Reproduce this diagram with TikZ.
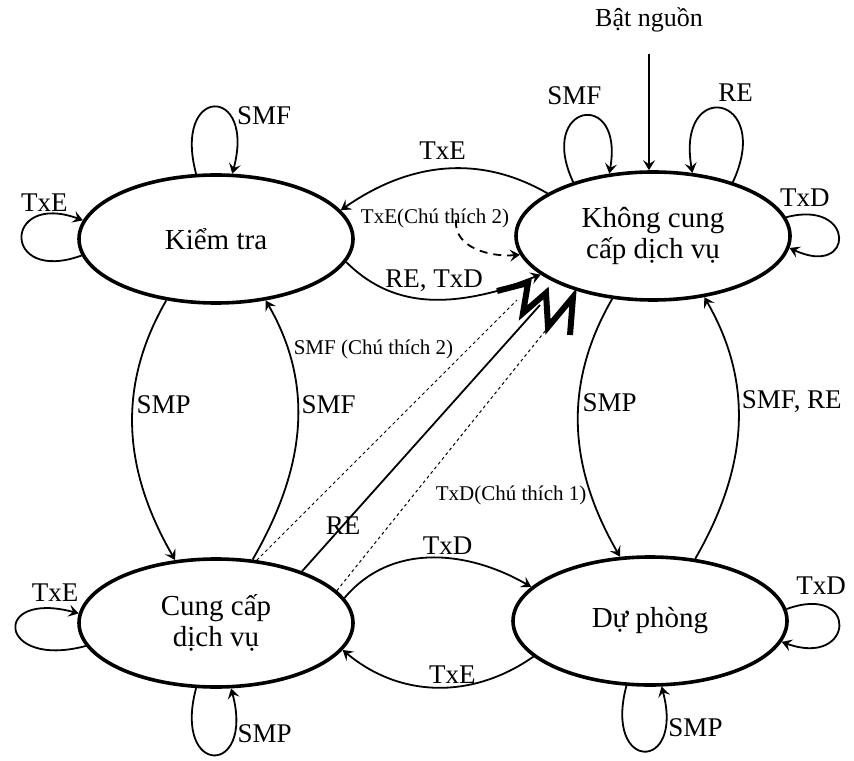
\documentclass[tikz,border=0pt]{standalone}
\usepackage{fontspec}
\setmainfont{Liberation Serif}
\usetikzlibrary{shapes.geometric,arrows.meta}

\begin{document}
\begin{tikzpicture}[x=0.5pt,y=0.5pt,
        >={Stealth[length=5pt,width=6pt,inset=2pt]},
        state/.style={draw,ellipse,line width=1.8pt,minimum width=137pt,
            minimum height=64pt,inner sep=0pt,align=center,
            font=\fontsize{14.5}{15.5}\selectfont},
        lbl/.style={font=\fontsize{13.5}{15}\selectfont,inner sep=1.5pt},
        note/.style={font=\fontsize{10.5}{12}\selectfont,inner sep=1pt},
        trans/.style={->,line width=0.9pt},
        hint/.style={line width=0.5pt,dash pattern=on 1.5pt off 1.5pt}]
        \useasboundingbox (0,0) rectangle (854,760);
        %% States
        \node[state] (KT) at (216,521) {Kiểm tra};
        \node[state] (KCC) at (653,524) {Không cung\\cấp dịch vụ};
        \node[state] (CC) at (216,137) {Cung cấp\\dịch vụ};
        \node[state] (DP) at (650,139) {Dự phòng};
        %% Power on
        \node[lbl,font=\fontsize{13}{15}\selectfont] (bat) at (649,740) {Bật nguồn};
        \draw[trans,shorten <=9pt] (bat) -- (bat |- KCC.north);
        %% Top pair
        \draw[trans] (KCC.158) to[out=150,in=35]
            node[lbl,above=3pt] (lTop) {TxE} (KT.13);
        \coordinate (zz) at (497,469);
        \draw[line width=0.9pt] (KT.-10) to[out=-45,in=195]
            node[lbl,pos=0.62,above=2pt] (lMid) {RE, TxD} (zz);
        \node[note] (nTxE) at (435,542) {TxE(Chú thích 2)};
        \coordinate (dsh) at (456,540);
        \draw[trans,dash pattern=on 4pt off 3pt] (dsh) to[out=-95,in=185] (KCC.188);
        %% Zigzag head
        \draw[line width=3pt] (zz) -- (528,477) -- (523,447) -- (546,467)
            -- (548,433) -- (573,463) -- (570,425);
        \draw[trans] (zz) -- (KCC.199);
        %% Vertical pairs
        \draw[trans] (KT.231) to[out=240,in=120]
            node[lbl,pos=0.4,right] (lSMP1) {SMP} (CC.123);
        \draw[trans] (CC.60) to[out=60,in=-60]
            node[lbl,pos=0.6,right] (lSMF1) {SMF} (KT.-51);
        \draw[trans] (KCC.237) to[out=240,in=120]
            node[lbl,pos=0.4,right] (lSMP2) {SMP} (DP.115);
        \draw[trans] (DP.54) to[out=60,in=-60]
            node[lbl,pos=0.6,right] (lSMF2) {SMF, RE} (KCC.-50);
        %% Bottom pair
        \draw[trans] (CC.11) to[out=50,in=150]
            node[lbl,pos=0.58,above] (lTxD) {TxD} (DP.164);
        \draw[trans] (DP.197) to[out=215,in=-40]
            node[lbl,pos=0.42,above] (lTxE) {TxE} (CC.-12);
        %% Diagonals
        \coordinate (zA) at (517,460);
        \coordinate (zB) at (540,455);
        \coordinate (zC) at (562,450);
        \draw[hint] (CC.57) -- node[note,pos=0.81,left=6pt] (nSMF) {SMF (Chú thích 2)} (zA);
        \draw[line width=0.9pt] (CC.31) -- node[lbl,pos=0.173] (lRE) {RE} (zB);
        \draw[hint] (CC.15) -- node[note,pos=0.34,right=10pt] (nTxD) {TxD(Chú thích 1)} (zC);
        %% Loops
        \draw[trans] (KT.107) to[out=105,in=75,looseness=6.5]
            node[lbl,pos=0.68,right=2pt] (lKT1) {SMF} (KT.76);
        \draw[trans] (KT.187) to[out=200,in=160,looseness=6.2]
            node[lbl,pos=0.8,above] (lKT2) {TxE} (KT.172);
        \draw[trans] (KCC.146) to[out=115,in=80,looseness=6]
            node[lbl,pos=0.4,above=6pt] (lKCC1) {SMF} (KCC.125);
        \draw[trans] (KCC.34) to[out=65,in=100,looseness=6]
            node[lbl,pos=0.35,above=6pt] (lKCC2) {RE} (KCC.58);
        \draw[trans] (KCC.8) to[out=15,in=-25,looseness=6]
            node[lbl,pos=0.1,above=2pt] (lKCC3) {TxD} (KCC.-5);
        \draw[trans] (CC.190) to[out=195,in=165,looseness=7]
            node[lbl,pos=0.9,above=2pt] (lCC1) {TxE} (CC.176);
        \draw[trans] (CC.253) to[out=255,in=285,looseness=6.7]
            node[lbl,pos=0.78,right] (lCC2) {SMP} (CC.283);
        \draw[trans] (DP.250) to[out=255,in=285,looseness=6.5]
            node[lbl,pos=0.8,right] (lDP1) {SMP} (DP.280);
        \draw[trans] (DP.5) to[out=20,in=-20,looseness=6]
            node[lbl,pos=0.2,above=3pt] (lDP2) {TxD} (DP.-9);
\end{tikzpicture}
\end{document}
